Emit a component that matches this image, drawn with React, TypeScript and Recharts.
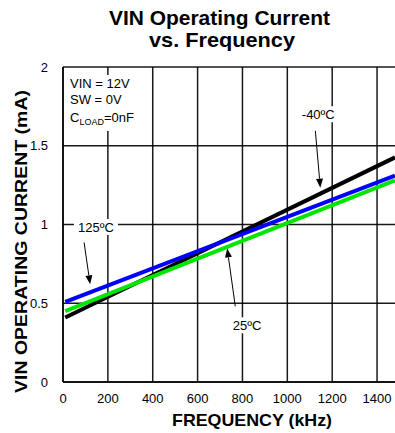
import React from "react";
import { CartesianGrid, Line, LineChart, ReferenceDot, ReferenceLine, XAxis, YAxis } from "recharts";

// frequency (kHz) and supply current (mA)
const frequency = [10, 1480];
const currentMinus40 = [0.41, 1.426];
const current25 = [0.45, 1.28];
const current125 = [0.508, 1.31];

const xTicks = [0, 200, 400, 600, 800, 1000, 1200, 1400];
const yTicks = [0, 0.5, 1, 1.5, 2];

const data = frequency.map((f, i) => ({
  freq: f,
  m40: currentMinus40[i],
  t25: current25[i],
  t125: current125[i],
}));

const FONT = "Arial, 'Liberation Sans', sans-serif";

function Arrow(props: any) {
  const { x1, y1, x2, y2 } = props;
  const ang = Math.atan2(y2 - y1, x2 - x1);
  const len = 9;
  const half = 3.5;
  const bx = x2 - len * Math.cos(ang);
  const by = y2 - len * Math.sin(ang);
  const px = -Math.sin(ang) * half;
  const py = Math.cos(ang) * half;
  return (
    <g>
      <line x1={x1} y1={y1} x2={bx} y2={by} stroke="#000" strokeWidth={1} />
      <polygon points={`${x2},${y2} ${bx + px},${by + py} ${bx - px},${by - py}`} fill="#000" />
    </g>
  );
}

function TempLabel({ cx, cy, text, w }: any) {
  return (
    <g>
      <rect x={cx - w / 2} y={cy - 8} width={w} height={16} fill="#fff" />
      <text x={cx} y={cy + 5} textAnchor="middle" fontSize={13} fontFamily={FONT} fill="#000">
        {text}
      </text>
    </g>
  );
}

function InfoBox({ cx, cy }: any) {
  return (
    <g fontFamily={FONT} fontSize={13} fill="#000">
      <rect x={cx + 2} y={cy + 8} width={44} height={56} fill="#fff" />
      <text x={cx + 7} y={cy + 21}>VIN = 12V</text>
      <text x={cx + 7} y={cy + 37}>SW = 0V</text>
      <text x={cx + 7} y={cy + 55}>
        C<tspan fontSize={9} dy={3}>LOAD</tspan>
        <tspan dy={-3}>=0nF</tspan>
      </text>
    </g>
  );
}

// only draw vertical grid lines at the labelled ticks (no line at the clipped right edge)
function verticalGrid({ xAxis, offset }: any) {
  if (xAxis && typeof xAxis.scale === "function") {
    return xTicks.map((t) => xAxis.scale(t));
  }
  const step = offset.width / 1480;
  return xTicks.map((t) => offset.left + t * step);
}

export default function App() {
  return (
    <div style={{ position: "absolute", left: 0, top: 0, width: 395, height: 433, background: "#fff", overflow: "hidden" }}>
      <LineChart width={395} height={433} data={data} margin={{ top: 67, right: 0, left: 0, bottom: 0 }}>
        <CartesianGrid stroke="#000" strokeWidth={1.5} strokeOpacity={0.9} verticalCoordinatesGenerator={verticalGrid} />
        <XAxis
          dataKey="freq"
          type="number"
          domain={[0, 1480]}
          ticks={xTicks}
          height={51}
          tickLine={false}
          tickSize={6}
          tickMargin={6}
          axisLine={{ stroke: "#000", strokeWidth: 1.5 }}
          tick={{ fontSize: 13, fill: "#000", fontFamily: FONT }}
        />
        <YAxis
          type="number"
          domain={[0, 2]}
          ticks={yTicks}
          width={63}
          tickLine={false}
          tickSize={6}
          tickMargin={9}
          axisLine={{ stroke: "#000", strokeWidth: 1.5 }}
          tick={{ fontSize: 13, fill: "#000", fontFamily: FONT }}
        />
        <ReferenceDot x={0} y={2} r={0} shape={(p: any) => <InfoBox {...p} />} />
        <ReferenceDot x={1138} y={1.7} r={0} shape={(p: any) => <TempLabel {...p} text="-40ºC" w={40} />} />
        <ReferenceDot x={147} y={0.984} r={0} shape={(p: any) => <TempLabel {...p} text="125ºC" w={44} />} />
        <ReferenceDot x={821} y={0.36} r={0} shape={(p: any) => <TempLabel {...p} text="25ºC" w={34} />} />
        <Line dataKey="m40" stroke="#000" strokeWidth={4} dot={false} isAnimationActive={false} />
        <Line dataKey="t25" stroke="#00e600" strokeWidth={4} dot={false} isAnimationActive={false} />
        <Line dataKey="t125" stroke="#0000ff" strokeWidth={4} dot={false} isAnimationActive={false} />
        <ReferenceLine segment={[{ x: 1125, y: 1.595 }, { x: 1147, y: 1.234 }]} shape={(p: any) => <Arrow {...p} />} />
        <ReferenceLine segment={[{ x: 94, y: 0.886 }, { x: 121, y: 0.62 }]} shape={(p: any) => <Arrow {...p} />} />
        <ReferenceLine segment={[{ x: 768, y: 0.481 }, { x: 732, y: 0.848 }]} shape={(p: any) => <Arrow {...p} />} />
      </LineChart>
      <svg
        width={395}
        height={433}
        style={{ position: "absolute", left: 0, top: 0, pointerEvents: "none" }}
        fontFamily={FONT}
        fontWeight="bold"
        fill="#000"
      >
        <text x={219.5} y={25} fontSize={21} textAnchor="middle" textLength={221} lengthAdjust="spacingAndGlyphs">
          VIN Operating Current
        </text>
        <text x={222} y={47} fontSize={21} textAnchor="middle" textLength={146} lengthAdjust="spacingAndGlyphs">
          vs. Frequency
        </text>
        <text x={252} y={426} fontSize={17} textAnchor="middle" textLength={160} lengthAdjust="spacingAndGlyphs">
          FREQUENCY (kHz)
        </text>
        <text
          x={0}
          y={0}
          fontSize={16.5}
          textAnchor="middle"
          textLength={303}
          lengthAdjust="spacingAndGlyphs"
          transform="translate(27 241.5) rotate(-90)"
        >
          VIN OPERATING CURRENT (mA)
        </text>
      </svg>
    </div>
  );
}
